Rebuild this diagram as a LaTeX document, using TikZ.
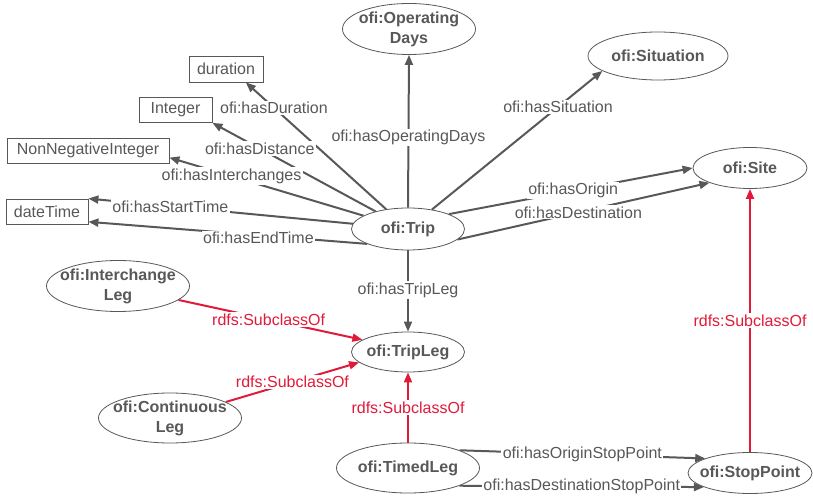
\documentclass[tikz,border=0pt]{standalone}
\usepackage{fontspec}
\setmainfont{Liberation Sans}
\usetikzlibrary{arrows.meta,positioning,backgrounds,shapes.geometric}
\definecolor{ofigray}{RGB}{88,88,88}
\definecolor{ofired}{RGB}{226,26,58}

\begin{document}
\begin{tikzpicture}[x=0.75pt,y=-0.75pt,
  cls/.style={draw=ofigray,ellipse,line width=0.6pt,fill=white,align=center,inner xsep=-8pt,inner ysep=-1pt,text=ofigray,font=\fontsize{12}{15}\selectfont\bfseries},
  lit/.style={draw=ofigray,line width=0.6pt,fill=white,minimum height=18.75pt,text=ofigray,font=\fontsize{12}{14}\selectfont},
  lbl/.style={fill=white,inner sep=1pt,text=ofigray,font=\fontsize{12}{14}\selectfont},
  rlbl/.style={lbl,text=ofired},
  prop/.style={->,draw=ofigray,line width=1.5pt},
  sub/.style={->,draw=ofired,line width=1.5pt},
  >={Triangle[length=7.5pt,width=6pt]}]
\useasboundingbox (0,0) rectangle (813,498);
\node[cls,minimum width=99.75pt,minimum height=38.25pt] (OPDAYS) at (409,29) {ofi:Operating\\Days};
\node[cls,minimum width=105pt,minimum height=36pt] (SITUATION) at (658,56) {ofi:Situation};
\node[cls,minimum width=85.5pt,minimum height=30.75pt] (SITE) at (750,168) {ofi:Site};
\node[cls,minimum width=84.75pt,minimum height=31.5pt] (TRIP) at (408,229) {ofi:Trip};
\node[cls,minimum width=107.25pt,minimum height=38.25pt] (ILEG) at (118,286) {ofi:Interchange\\Leg};
\node[cls,minimum width=84.75pt,minimum height=30pt] (TRIPLEG) at (408,352) {ofi:TripLeg};
\node[cls,minimum width=107.25pt,minimum height=37.5pt] (CLEG) at (170,418) {ofi:Continuous\\Leg};
\node[cls,minimum width=107.25pt,minimum height=37.5pt] (TLEG) at (408,468) {ofi:TimedLeg};
\node[cls,minimum width=93pt,minimum height=30.75pt] (STOPPT) at (750,473) {ofi:StopPoint};
\node[lit,minimum width=55.5pt,minimum height=19.5pt] (DURATION) at (226,69) {duration};
\node[lit,minimum width=54.75pt] (INTEGER) at (175.5,110) {Integer};
\node[lit,minimum width=121.5pt] (NNINT) at (88,150.5) {NonNegativeInteger};
\node[lit,minimum width=61.5pt] (DATETIME) at (47,211.5) {dateTime};
\begin{scope}[on background layer]
\draw[prop] (TRIP) -- node[lbl,pos=0.8] {ofi:hasDuration} (DURATION.-34);
\draw[prop] (TRIP) -- node[lbl,pos=0.71] {ofi:hasDistance} (INTEGER.south east);
\draw[prop] (TRIP) -- node[lbl,pos=0.68] {ofi:hasInterchanges} (NNINT.-5);
\draw[prop] (TRIP) -- node[lbl,pos=0.69] {ofi:hasStartTime} (DATETIME.north east);
\draw[prop] (TRIP.200) -- node[lbl,pos=0.39,yshift=-2pt] {ofi:hasEndTime} (DATETIME.-14);
\draw[prop] (TRIP.north) -- node[lbl,pos=0.46] {ofi:hasOperatingDays} (OPDAYS.south);
\draw[prop] (TRIP) -- node[lbl,pos=0.74] {ofi:hasSituation} (SITUATION.195);
\draw[prop] (TRIP.20) -- node[lbl,pos=0.51] {ofi:hasOrigin} (SITE.west);
\draw[prop] (TRIP.-12) -- node[lbl,pos=0.48] {ofi:hasDestination} (SITE.200);
\draw[prop] (TRIP.south) -- node[lbl,pos=0.49] {ofi:hasTripLeg} (TRIPLEG.north);
\draw[sub] (ILEG.-13) -- node[rlbl,pos=0.49] {rdfs:SubclassOf} (TRIPLEG.165);
\draw[sub] (CLEG.16) -- node[rlbl,pos=0.5] {rdfs:SubclassOf} (TRIPLEG.192);
\draw[sub] (TLEG.north) -- node[rlbl,pos=0.5] {rdfs:SubclassOf} (TRIPLEG.south);
\draw[sub] (STOPPT.north) -- node[rlbl,pos=0.5] {rdfs:SubclassOf} (SITE.south);
\draw[prop] (TLEG.19) -- node[lbl,pos=0.5] {ofi:hasOriginStopPoint} (STOPPT.162);
\draw[prop] (TLEG.-19) -- node[lbl,pos=0.5] {ofi:hasDestinationStopPoint} (STOPPT.197);
\end{scope}
\end{tikzpicture}
\end{document}
